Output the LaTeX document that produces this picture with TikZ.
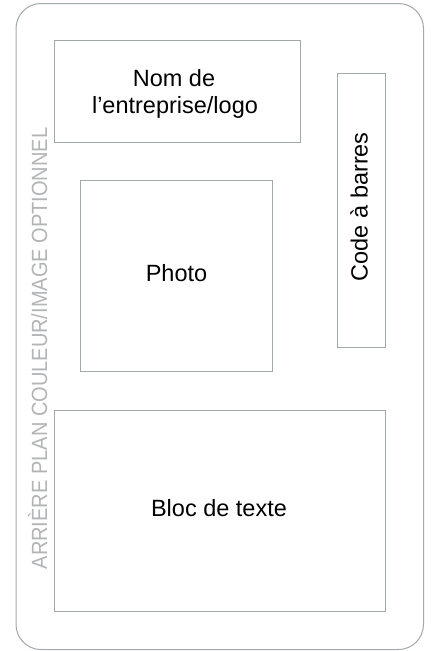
\documentclass[tikz,border=0pt]{standalone}
\usepackage{fontspec}
\setmainfont{Liberation Sans}
\newfontfamily\sidefont[FakeStretch=0.91]{Liberation Sans}
\definecolor{boxline}{HTML}{A3A8AD}
\definecolor{sidegray}{HTML}{B2B4B6}
\begin{document}
\begin{tikzpicture}[x=1pt,y=-1pt,
  card/.style={draw=boxline, line width=1pt, rounded corners=25pt, inner sep=0pt, outer sep=0pt},
  box/.style={draw=boxline, line width=1pt, inner sep=0pt, outer sep=0pt, fill=white},
  lbl/.style={inner sep=0pt, font=\fontsize{23.5}{27}\selectfont, text=black},
  side/.style={inner sep=0pt, font=\sidefont\fontsize{22}{26}\selectfont, text=sidegray}]
\useasboundingbox (0,0) rectangle (433,651);
\fill[white] (0,0) rectangle (433,651);
\node[card, minimum width=407.5pt, minimum height=646pt] (card) at (219.75,326.5) {};
\node[box, minimum width=246pt, minimum height=101.5pt] (namebox) at (177,91.5) {};
\node[box, minimum width=48pt, minimum height=274pt] (barbox) at (361.6,210) {};
\node[box, minimum width=192pt, minimum height=191pt] (photobox) at (176.5,275.5) {};
\node[box, minimum width=331.5pt, minimum height=201pt] (textbox) at (220,511) {};
\node[lbl, anchor=base] (nom1) at (174,86) {Nom de};
\node[lbl, anchor=base] (nom2) at (175,113) {l’entreprise/logo};
\node[lbl, anchor=base] (photo) at (176.5,281) {Photo};
\node[lbl, anchor=base] (bloc) at (219,516.7) {Bloc de texte};
\node[lbl, anchor=base, rotate=90] (code) at (367.5,206.7) {Code à barres};
\node[side, anchor=base, rotate=90] (sidetxt) at (47,348.5) {ARRIÈRE PLAN COULEUR/IMAGE OPTIONNEL};
\end{tikzpicture}
\end{document}
